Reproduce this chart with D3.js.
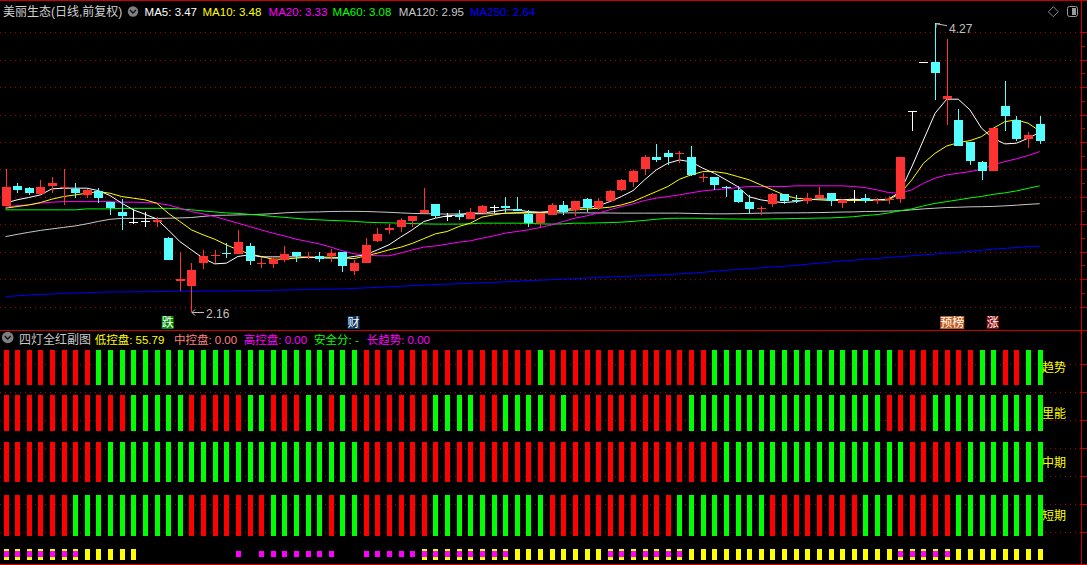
<!DOCTYPE html>
<html><head><meta charset="utf-8">
<script src="https://cdn.jsdelivr.net/npm/d3@7"></script>
<style>
html,body{margin:0;padding:0;background:#000;overflow:hidden;}
svg{display:block;}
text{font-family:"Liberation Sans","Noto Sans CJK SC",sans-serif;}
</style></head><body>
<svg id="chart" width="1087" height="565"></svg>
<script>
// ---------------- DATA ----------------
const days = Array.from({length: 90}, (_, i) => i);

const open = [2.936,3.080,3.067,3.021,3.085,3.065,3.056,3.014,3.044,2.965,
2.892,2.815,2.822,2.815,2.703,2.389,2.353,2.521,2.565,2.592,
2.589,2.643,2.512,2.511,2.540,2.594,2.560,2.569,2.569,2.594,
2.455,2.521,2.679,2.754,2.783,2.827,2.885,2.948,2.863,2.868,
2.837,2.880,2.929,2.934,2.912,2.876,2.812,2.868,2.941,2.905,
2.983,2.917,2.970,3.051,3.111,3.204,3.289,3.318,3.311,3.289,
3.136,3.143,3.070,3.051,2.961,2.908,2.946,3.019,2.975,2.970,
2.990,3.026,2.954,2.983,2.990,2.975,2.980,2.990,3.626,3.981,
3.986,3.716,3.561,3.402,3.252,3.189,3.663,3.561,3.420,3.529];

const high = [3.204,3.104,3.075,3.124,3.148,3.204,3.100,3.056,3.063,2.965,
2.983,2.910,2.892,2.856,2.706,2.594,2.516,2.613,2.613,2.666,
2.759,2.662,2.563,2.563,2.642,2.601,2.600,2.600,2.618,2.594,
2.540,2.698,2.771,2.800,2.844,2.861,3.063,2.948,2.880,2.905,
2.919,2.940,2.941,3.001,3.001,2.905,2.885,2.955,2.966,2.970,
2.990,2.990,3.051,3.128,3.196,3.306,3.386,3.342,3.333,3.371,
3.177,3.143,3.080,3.080,3.014,2.934,3.031,3.019,3.014,3.031,
3.075,3.026,2.978,3.051,3.022,2.990,3.005,3.293,3.626,3.981,
4.270,4.149,3.639,3.402,3.264,3.500,3.845,3.590,3.476,3.590];

const low = [2.930,3.031,3.014,3.021,3.031,2.940,2.990,2.995,2.954,2.868,
2.759,2.803,2.783,2.778,2.540,2.316,2.160,2.472,2.516,2.553,
2.589,2.504,2.480,2.480,2.528,2.528,2.545,2.528,2.528,2.455,
2.431,2.521,2.667,2.730,2.747,2.783,2.885,2.844,2.827,2.832,
2.837,2.880,2.885,2.885,2.893,2.783,2.783,2.868,2.868,2.861,
2.890,2.905,2.966,3.043,3.075,3.160,3.257,3.233,3.245,3.155,
3.111,3.051,2.997,2.954,2.876,2.868,2.929,2.946,2.954,2.946,
2.990,2.936,2.922,2.954,2.954,2.946,2.946,2.954,3.483,3.981,
3.707,3.524,3.373,3.233,3.124,3.189,3.483,3.408,3.354,3.386];

const close = [3.075,3.051,3.031,3.075,3.104,3.075,3.026,3.051,2.995,2.921,
2.863,2.815,2.822,2.830,2.540,2.404,2.467,2.569,2.572,2.588,
2.674,2.535,2.519,2.545,2.584,2.565,2.567,2.545,2.589,2.492,
2.516,2.650,2.730,2.771,2.832,2.861,2.905,2.861,2.863,2.851,
2.890,2.934,2.929,2.917,2.898,2.812,2.885,2.941,2.892,2.970,
2.917,2.966,3.043,3.124,3.189,3.289,3.269,3.289,3.316,3.155,
3.143,3.082,3.060,2.966,2.910,2.915,3.019,2.970,2.970,2.994,
3.014,2.966,2.978,2.983,2.970,2.980,2.987,3.293,3.626,3.981,
3.906,3.736,3.373,3.264,3.184,3.500,3.590,3.422,3.452,3.402];

const ma5 = [2.954,2.978,2.995,3.014,3.058,3.063,3.063,3.063,3.045,3.009,
2.954,2.905,2.873,2.839,2.759,2.674,2.613,2.553,2.511,2.516,
2.565,2.577,2.562,2.562,2.562,2.562,2.560,2.555,2.553,2.553,
2.565,2.577,2.613,2.650,2.706,2.759,2.820,2.844,2.861,2.868,
2.881,2.881,2.892,2.905,2.905,2.892,2.888,2.892,2.905,2.917,
2.922,2.934,2.965,3.002,3.045,3.124,3.196,3.245,3.269,3.255,
3.209,3.172,3.124,3.075,3.000,2.978,2.965,2.958,2.965,2.978,
2.985,2.983,2.978,2.983,2.978,2.978,2.983,3.038,3.220,3.415,
3.610,3.712,3.712,3.634,3.500,3.427,3.386,3.391,3.427,3.470];

const ma10 = [2.917,2.929,2.941,2.958,2.983,3.002,3.014,3.026,3.038,3.026,
3.002,2.990,2.978,2.954,2.881,2.820,2.759,2.723,2.691,2.650,
2.613,2.584,2.565,2.545,2.545,2.553,2.560,2.560,2.560,2.555,
2.549,2.570,2.589,2.613,2.632,2.660,2.695,2.730,2.747,2.783,
2.808,2.852,2.868,2.881,2.885,2.885,2.885,2.892,2.900,2.905,
2.910,2.917,2.924,2.941,2.965,3.002,3.038,3.075,3.128,3.160,
3.184,3.184,3.172,3.148,3.124,3.087,3.051,3.014,2.990,2.983,
2.978,2.973,2.973,2.973,2.973,2.973,2.978,3.026,3.124,3.245,
3.318,3.371,3.395,3.410,3.439,3.500,3.548,3.561,3.537,3.480];

const ma20 = [2.924,2.936,2.941,2.954,2.961,2.965,2.965,2.965,2.965,2.965,
2.961,2.961,2.958,2.954,2.941,2.917,2.892,2.876,2.856,2.832,
2.808,2.783,2.759,2.735,2.715,2.691,2.674,2.657,2.633,2.606,
2.584,2.577,2.570,2.570,2.589,2.613,2.633,2.642,2.655,2.669,
2.679,2.698,2.715,2.735,2.747,2.759,2.776,2.795,2.820,2.844,
2.861,2.881,2.905,2.929,2.948,2.973,2.990,3.002,3.014,3.029,
3.043,3.051,3.058,3.067,3.075,3.075,3.075,3.075,3.080,3.080,
3.080,3.080,3.080,3.075,3.067,3.051,3.031,3.026,3.051,3.099,
3.136,3.160,3.172,3.184,3.201,3.233,3.257,3.277,3.301,3.330];

const ma60 = [2.905,2.905,2.905,2.905,2.905,2.905,2.905,2.912,2.912,2.912,
2.916,2.916,2.916,2.916,2.916,2.912,2.905,2.897,2.890,2.883,
2.879,2.872,2.865,2.857,2.850,2.843,2.836,2.832,2.828,2.825,
2.821,2.815,2.812,2.810,2.808,2.805,2.803,2.801,2.801,2.801,
2.803,2.808,2.808,2.808,2.808,2.806,2.803,2.801,2.803,2.808,
2.808,2.810,2.812,2.815,2.821,2.828,2.836,2.843,2.844,2.844,
2.843,2.841,2.839,2.838,2.837,2.837,2.839,2.840,2.842,2.843,
2.845,2.846,2.850,2.855,2.864,2.870,2.882,2.899,2.912,2.934,
2.952,2.965,2.978,2.992,3.003,3.018,3.029,3.043,3.062,3.080];

const ma120 = [2.710,2.726,2.741,2.755,2.766,2.777,2.788,2.803,2.821,2.836,
2.843,2.843,2.842,2.842,2.844,2.846,2.849,2.857,2.865,2.866,
2.868,2.870,2.873,2.877,2.883,2.887,2.889,2.890,2.893,2.894,
2.894,2.893,2.890,2.887,2.883,2.879,2.877,2.876,2.874,2.876,
2.876,2.876,2.877,2.879,2.880,2.882,2.883,2.883,2.883,2.883,
2.883,2.882,2.882,2.881,2.881,2.881,2.881,2.881,2.881,2.879,
2.877,2.876,2.876,2.877,2.879,2.881,2.882,2.883,2.883,2.884,
2.885,2.887,2.889,2.890,2.893,2.894,2.896,2.898,2.905,2.912,
2.917,2.922,2.924,2.927,2.928,2.930,2.934,2.939,2.945,2.950];

const ma250 = [2.273,2.278,2.284,2.288,2.291,2.296,2.299,2.301,2.304,2.306,
2.306,2.307,2.308,2.309,2.310,2.311,2.311,2.313,2.314,2.314,
2.315,2.316,2.317,2.318,2.320,2.322,2.324,2.326,2.327,2.328,
2.332,2.336,2.339,2.344,2.348,2.352,2.356,2.360,2.363,2.366,
2.369,2.373,2.376,2.380,2.384,2.389,2.392,2.396,2.400,2.403,
2.407,2.411,2.415,2.419,2.422,2.424,2.429,2.433,2.438,2.443,
2.449,2.457,2.464,2.470,2.476,2.482,2.489,2.494,2.500,2.508,
2.516,2.524,2.532,2.538,2.545,2.550,2.558,2.564,2.570,2.576,
2.583,2.589,2.596,2.602,2.610,2.618,2.624,2.630,2.637,2.640];

const maNames = ["MA5","MA10","MA20","MA60","MA120","MA250"];
const maLast  = ["3.47","3.48","3.33","3.08","2.95","2.64"];

// four-lamp rows: R = red, G = green (one letter per day)
const rowNames = ["趋势","里能","中期","短期"];
const rowTrend  = "RRRRRRRRGG GGGGGGGGGG GGGGGGGGGG GRRRRRRRRR RRRRRRGRRR RRRRRRRRRR RGGGGGGGGG GGGGGGGRRR RRRRGGRRGG".replace(/ /g,"").split("");
const rowEnergy = "RRRRRRRRRR RGGGGGRRRR RGGRRRGGRG RRRRRRRGGG GRRGGGGRGR RRRRRRRRRG GGGGGGGGGG GGGGGGRRRR GGGGGGGGGG".replace(/ /g,"").split("");
const rowMid    = "RRRRRRRRRG GGGGGGGGGG GGGGGGGGGG GRRRRRRRRR RRRRRRRRRR RRRRRRRRRR RRGGGGGGGG GGGGGGGGRR RRRGGGGGGG".replace(/ /g,"").split("");
const rowShort  = "RRRRRRGGGG GGGGGGRRRR RRRGGGGGRG GRRRRRRGGG GGGGGGGRRR RRRRRRRRGG GGGGGGRRRR RRRRGGGRRR RRGGGGGGGG".replace(/ /g,"").split("");
// bottom markers: B = yellow+magenta, Y = yellow, M = magenta, . = none
const marks     = "BBBBBBBYYY YY........ M.MMMMMMM. .MMMMMBBBB BBBBYYYYYY YYBBBBBBBY YYYYYYYYYY YYYYYYYBBB BBYYYYYYYY".replace(/ /g,"").split("");
// stick value ranges of each row in the sub chart
const rowBands = [[6.25,7.5],[4.6,5.9],[2.8,4.22],[0.88,2.33]];
const yellowBand = [0, 0.4];
const magentaBand = [0.12, 0.33];

const events = [{i:14, t:"跌"}, {i:30, t:"财"}, {i:81, t:"预榜"}, {i:85, t:"涨"}];
const subItems = [["低控盘: 55.79"],["中控盘: 0.00"],["高控盘: 0.00"],["安全分: -"],["长趋势: 0.00"]];

// ---------------- STYLE ----------------
const W = 1087, H = 565;
const RED = "#ff3232", CYAN = "#54ffff";
const maColors = ["#ffffff","#ffff00","#ff00ff","#00ff00","#c8c8c8","#0000ff"];
const maX = [144.6, 202.5, 268.6, 332.6, 398.8, 470];
const subColors = ["#ffff00","#ff8080","#ff00ff","#00ff00","#ff00ff"];
const subX = [94.7, 173.9, 243.8, 314, 366.7];
const eventColors = {"跌":"#008a00","财":"#0a3566","预榜":"#c25a1c","涨":"#8a0a0a"};
const gridColor = "#b00000", axisColor = "#c80000";

const svg = d3.select("#chart");
svg.append("rect").attr("width", W).attr("height", H).attr("fill", "#000");

const x = d3.scalePoint().domain(days).range([5.5, 1039.7]);
const y = d3.scaleLinear().domain([2.2, 4.2]).range([306.5, 32.3]);
const yLow = d3.scaleLinear().domain([0, 8]).range([560.3, 336.3]);
const px = v => Math.round(v);

// grid lines main
const g = svg.append("g").attr("shape-rendering", "crispEdges");
g.selectAll(".gm").data(y.ticks(10)).join("line")
  .attr("x1", 0).attr("x2", 1081).attr("y1", d => px(y(d)) + 0.5).attr("y2", d => px(y(d)) + 0.5)
  .attr("stroke", gridColor).attr("stroke-dasharray", "1,4");
// grid lines sub
g.selectAll(".gs").data(yLow.ticks(8).filter(d => d > 0 && d < 8)).join("line")
  .attr("x1", 0).attr("x2", 1081).attr("y1", d => px(yLow(d)) + 0.5).attr("y2", d => px(yLow(d)) + 0.5)
  .attr("stroke", gridColor).attr("stroke-dasharray", "1,4");

// frame lines
g.append("line").attr("x1", 0).attr("x2", W).attr("y1", 0.5).attr("y2", 0.5).attr("stroke", axisColor);
g.append("line").attr("x1", 0).attr("x2", W).attr("y1", 330.5).attr("y2", 330.5).attr("stroke", axisColor);
g.append("line").attr("x1", 0).attr("x2", W).attr("y1", 564.5).attr("y2", 564.5).attr("stroke", axisColor);
g.append("line").attr("x1", 1081.5).attr("x2", 1081.5).attr("y1", 0).attr("y2", H).attr("stroke", axisColor);
// right axis ticks
g.selectAll(".tk").data(y.ticks(20)).join("line")
  .attr("x1", 1082).attr("x2", (d, i) => (Math.round(d * 10) % 2 === 0) ? 1087 : 1085)
  .attr("y1", d => px(y(d)) + 0.5).attr("y2", d => px(y(d)) + 0.5).attr("stroke", axisColor);
g.selectAll(".tks").data(yLow.ticks(8).filter(d => d > 0 && d < 8)).join("line")
  .attr("x1", 1082).attr("x2", 1087)
  .attr("y1", d => px(yLow(d)) + 0.5).attr("y2", d => px(yLow(d)) + 0.5).attr("stroke", axisColor);

// MA lines
const maSeries = [ma5, ma10, ma20, ma60, ma120, ma250];
const lineGen = arr => d3.line().x(i => x(i)).y(i => y(arr[i]))(days);
// draw long MAs first
[5, 4, 3, 2, 1, 0].forEach(k => {
  svg.append("path").attr("d", lineGen(maSeries[k])).attr("fill", "none")
    .attr("stroke", maColors[k]).attr("stroke-width", 1);
});

// candles
const cg = svg.append("g").attr("shape-rendering", "crispEdges");
const col = i => close[i] > open[i] ? RED : (close[i] < open[i] ? CYAN : "#ffffff");
cg.selectAll(".wick").data(days).join("line")
  .attr("x1", i => px(x(i)) + 0.5).attr("x2", i => px(x(i)) + 0.5)
  .attr("y1", i => y(high[i])).attr("y2", i => y(low[i]))
  .attr("stroke", col);
cg.selectAll(".body").data(days).join("rect")
  .attr("x", i => px(x(i)) - 4).attr("width", 9)
  .attr("y", i => Math.round(y(Math.max(open[i], close[i]))))
  .attr("height", i => Math.max(1, Math.round(y(Math.min(open[i], close[i])) - y(Math.max(open[i], close[i])))))
  .attr("fill", col);

// high / low annotations
const hiI = d3.maxIndex(high), loI = d3.minIndex(low);
const hx = px(x(hiI)) + 1, hy = y(high[hiI]) + 1;
svg.append("path").attr("d", `M${hx},${hy} l0,4 M${hx},${hy} l4,0 M${hx},${hy} L${hx + 11},${hy + 2}`)
  .attr("stroke", "#c0c0c0").attr("fill", "none");
svg.append("text").attr("x", hx + 13).attr("y", hy + 9).attr("fill", "#c0c0c0").attr("font-size", 12)
  .text(high[hiI].toFixed(2));
const lx = px(x(loI)) + 1, ly = Math.round(y(low[loI])) + 0.5;
svg.append("path").attr("d", `M${lx},${ly} l3,-3 M${lx},${ly} l3,3 M${lx},${ly} L${lx + 12},${ly}`)
  .attr("stroke", "#c0c0c0").attr("fill", "none");
svg.append("text").attr("x", lx + 14).attr("y", ly + 5).attr("fill", "#c0c0c0").attr("font-size", 12)
  .text(low[loI].toFixed(2));

// event labels
events.forEach(e => {
  const ex = x(e.i) - 6.5, w = 12 * e.t.length;
  svg.append("rect").attr("x", ex).attr("y", 316).attr("width", w).attr("height", 13).attr("fill", eventColors[e.t]);
  svg.append("text").attr("x", ex + w / 2).attr("y", 327).attr("text-anchor", "middle")
    .attr("fill", "#ffffff").attr("font-size", 12).attr("font-family", "Noto Sans CJK SC").text(e.t);
});

// sub chart bars
const rows = [rowTrend, rowEnergy, rowMid, rowShort];
const sg = svg.append("g").attr("shape-rendering", "crispEdges");
rows.forEach((r, k) => {
  const b = rowBands[k];
  sg.selectAll(".r" + k).data(days).join("rect")
    .attr("x", i => px(x(i)) - 2).attr("width", 5)
    .attr("y", Math.round(yLow(b[1]))).attr("height", Math.round(yLow(b[0]) - yLow(b[1])))
    .attr("fill", i => r[i] === "R" ? "#ff0000" : "#00ff00");
  svg.append("text").attr("x", 1042).attr("y", (yLow(b[0]) + yLow(b[1])) / 2 + 4.5)
    .attr("fill", "#ffff00").attr("font-size", 12).attr("font-family", "Noto Sans CJK SC").text(rowNames[k]);
});
sg.selectAll(".my").data(days.filter(i => marks[i] === "Y" || marks[i] === "B")).join("rect")
  .attr("x", i => px(x(i)) - 2).attr("width", 5)
  .attr("y", Math.round(yLow(yellowBand[1]))).attr("height", Math.round(yLow(yellowBand[0]) - yLow(yellowBand[1])))
  .attr("fill", "#ffff00");
sg.selectAll(".mm").data(days.filter(i => marks[i] === "M" || marks[i] === "B")).join("rect")
  .attr("x", i => px(x(i)) - 2).attr("width", 5)
  .attr("y", Math.round(yLow(magentaBand[1]))).attr("height", Math.round(yLow(magentaBand[0]) - yLow(magentaBand[1])))
  .attr("fill", "#ff00ff");

// header main
svg.append("text").attr("x", 3).attr("y", 16).attr("fill", "#d0d0d0").attr("font-size", 12)
  .attr("font-family", "Noto Sans CJK SC").text("美丽生态(日线,前复权)");
const chev = (cx, cy, r) => {
  svg.append("circle").attr("cx", cx).attr("cy", cy).attr("r", r).attr("fill", "#808080");
  svg.append("path").attr("d", `M${cx - 3},${cy - 1.5} L${cx},${cy + 1.5} L${cx + 3},${cy - 1.5}`)
    .attr("stroke", "#111").attr("stroke-width", 1.4).attr("fill", "none");
};
chev(133, 11.5, 5.2);
maNames.forEach((n, k) => {
  svg.append("text").attr("x", maX[k]).attr("y", 15.5).attr("fill", maColors[k]).attr("font-size", 11.5)
    .text(n + ": " + maLast[k]);
});
// top-right icons
svg.append("path").attr("d", "M1053.3,6.7 L1058.3,11.7 L1053.3,16.7 L1048.3,11.7 Z").attr("fill", "none").attr("stroke", "#8a8a8a");
svg.append("rect").attr("x", 1067.5).attr("y", 6.5).attr("width", 10).attr("height", 10).attr("rx", 2)
  .attr("fill", "none").attr("stroke", "#9a9a9a");
svg.append("rect").attr("x", 1072).attr("y", 8).attr("width", 4).attr("height", 7).attr("fill", "#9a9a9a");

// header sub
chev(7.7, 337.5, 5.8);
svg.append("text").attr("x", 19).attr("y", 343.5).attr("fill", "#c8c8c8").attr("font-size", 12)
  .attr("font-family", "Noto Sans CJK SC").text("四灯全红副图");
subItems.forEach((s, k) => {
  svg.append("text").attr("x", subX[k]).attr("y", 343.5).attr("fill", subColors[k]).attr("font-size", 11.5)
    .text(s[0]);
});
</script>
</body></html>
